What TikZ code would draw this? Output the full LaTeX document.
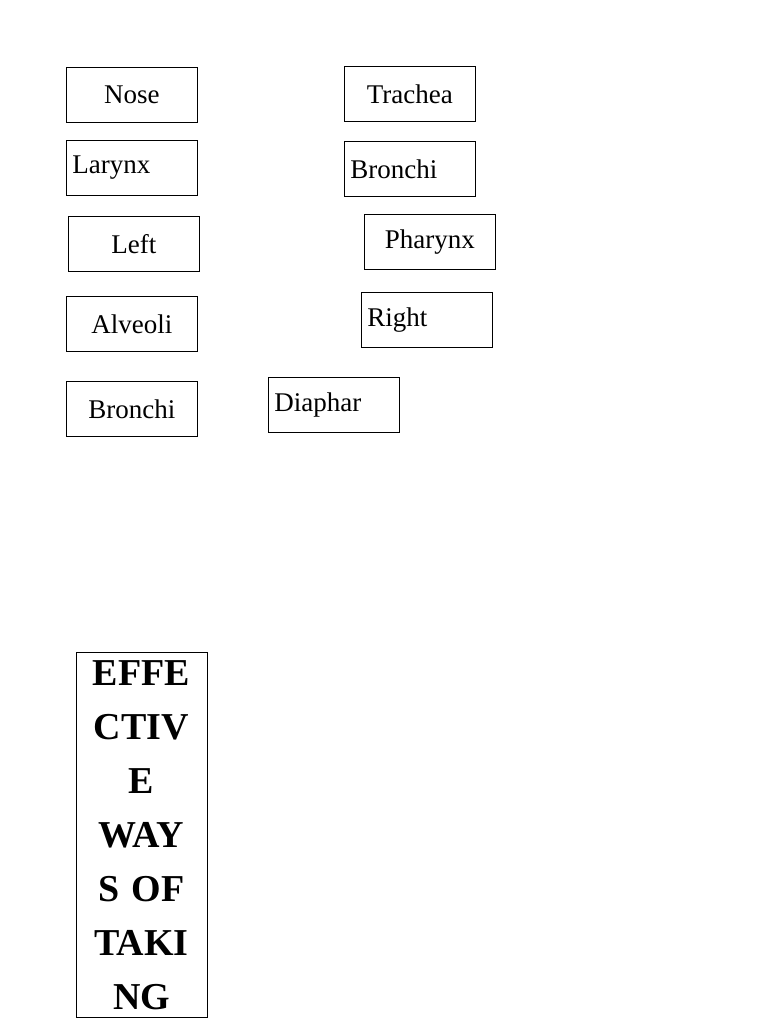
\documentclass[tikz,border=0pt]{standalone}
\usepackage{fontspec}
\setmainfont{Liberation Serif}
\tikzset{
  wordbox/.style={draw, line width=0.8pt, minimum width=131pt, minimum height=55pt,
    anchor=north west, font=\fontsize{27}{30}\selectfont, inner sep=0pt},
  leftword/.style={wordbox, text width=119pt, align=left},
  titlebox/.style={draw, line width=0.8pt, anchor=north, text width=123pt, align=center,
    inner xsep=4pt, inner ysep=8pt, font=\bfseries\fontsize{38}{54}\selectfont}
}
\begin{document}
\begin{tikzpicture}[x=1pt,y=-1pt]
  \useasboundingbox (0,0) rectangle (768,1024);
  \node[wordbox] (nose) at (66,67) {Nose};
  \node[wordbox] (trachea) at (344,66) {Trachea};
  \node[leftword] (larynx) at (66,140) {Larynx};
  \node[leftword] (bronchiR) at (344,141) {Bronchi};
  \node[wordbox] (left) at (68,216) {Left};
  \node[wordbox] (pharynx) at (364,214) {Pharynx};
  \node[wordbox] (alveoli) at (66,296) {Alveoli};
  \node[leftword] (right) at (361,292) {Right};
  \node[wordbox] (bronchiL) at (66,381) {Bronchi};
  \node[leftword] (diaphar) at (268,377) {Diaphar};
  \node[titlebox] (title) at (141.5,652) {EFFE\\CTIV\\E\\WAY\\S OF\\TAKI\\NG\\};
\end{tikzpicture}
\end{document}
